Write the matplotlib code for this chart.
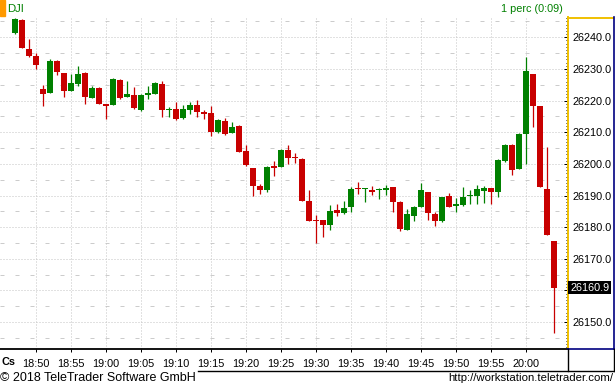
import matplotlib
matplotlib.use("Agg")
import matplotlib.pyplot as plt
import numpy as np
from matplotlib.lines import Line2D
from matplotlib.patches import Rectangle
from matplotlib.ticker import MultipleLocator

plt.rcParams['font.family'] = ['Liberation Sans', 'DejaVu Sans']

# 1-minute candles for DJI, first bar at 18:47
start_time = "18:47"
opens = [26241.4, 26245.5, 26236.3, 26234.1, 26223.7, 26222.5, 26232.5, 26228.7, 26223.1, 26225.3,
         26228.8, 26220.9, 26224.0, 26218.5, 26218.5, 26226.5, 26221.2, 26221.8, 26217.0, 26221.9,
         26222.2, 26225.3, 26217.0, 26217.4, 26214.6, 26217.1, 26218.6, 26216.4, 26216.2, 26210.2,
         26213.6, 26209.6, 26212.0, 26204.1, 26198.7, 26193.0, 26191.8, 26199.4, 26199.0, 26204.4,
         26202.0, 26201.6, 26188.3, 26182.0, 26182.3, 26180.7, 26185.5, 26184.6, 26186.5, 26192.1,
         26192.0, 26191.8, 26191.6, 26191.8, 26192.7, 26188.1, 26179.2, 26183.4, 26186.5, 26191.2,
         26184.2, 26182.1, 26189.9, 26186.8, 26187.0, 26189.8, 26190.0, 26191.5, 26192.4, 26191.2,
         26201.0, 26206.0, 26198.4, 26209.4, 26228.5, 26218.4, 26192.1, 26175.7]
highs = [26246.1, 26245.8, 26239.5, 26235.1, 26224.9, 26233.1, 26232.8, 26228.7, 26228.4, 26230.9,
         26229.0, 26224.5, 26224.2, 26218.5, 26227.1, 26226.8, 26226.2, 26224.3, 26222.0, 26224.6,
         26225.8, 26226.2, 26218.0, 26219.5, 26218.6, 26219.6, 26220.2, 26217.0, 26218.3, 26214.2,
         26214.5, 26213.2, 26212.3, 26206.0, 26198.7, 26193.5, 26199.4, 26201.0, 26204.7, 26206.0,
         26203.5, 26201.8, 26191.8, 26183.9, 26182.3, 26187.0, 26187.4, 26188.3, 26192.8, 26194.4,
         26192.3, 26193.0, 26192.3, 26193.4, 26192.7, 26188.4, 26185.8, 26186.7, 26194.1, 26191.2,
         26184.8, 26189.6, 26190.8, 26189.3, 26192.7, 26191.8, 26193.4, 26193.0, 26192.4, 26201.6,
         26206.3, 26206.3, 26209.6, 26233.9, 26228.5, 26218.4, 26205.4, 26175.7]
lows = [26241.1, 26236.7, 26233.9, 26230.0, 26218.3, 26222.5, 26228.2, 26221.2, 26223.1, 26224.7,
        26219.0, 26220.9, 26218.8, 26214.3, 26218.5, 26220.6, 26221.2, 26217.3, 26216.7, 26220.5,
        26222.2, 26214.9, 26214.9, 26213.7, 26214.3, 26215.6, 26214.9, 26214.3, 26208.9, 26209.9,
        26209.2, 26209.6, 26203.9, 26199.4, 26189.9, 26190.6, 26191.2, 26196.2, 26199.0, 26200.1,
        26200.4, 26188.4, 26181.8, 26175.1, 26177.0, 26179.2, 26183.6, 26184.3, 26184.8, 26190.4,
        26188.1, 26190.2, 26188.9, 26190.2, 26184.9, 26178.9, 26179.2, 26182.1, 26186.5, 26182.4,
        26180.5, 26181.5, 26186.5, 26184.9, 26186.7, 26187.4, 26187.4, 26187.7, 26187.4, 26189.6,
        26200.6, 26196.5, 26198.4, 26199.8, 26211.5, 26192.8, 26177.4, 26146.7]
closes = [26245.8, 26236.7, 26234.2, 26231.3, 26222.2, 26232.5, 26229.1, 26223.1, 26225.6, 26228.4,
          26221.2, 26224.0, 26218.8, 26218.4, 26226.8, 26220.9, 26222.1, 26217.6, 26221.8, 26222.2,
          26225.6, 26217.1, 26217.1, 26214.3, 26217.4, 26218.6, 26216.5, 26215.9, 26210.2, 26213.9,
          26209.5, 26211.7, 26203.9, 26199.7, 26193.0, 26191.8, 26199.0, 26198.8, 26204.4, 26202.0,
          26201.8, 26188.4, 26182.1, 26181.9, 26180.7, 26185.2, 26184.6, 26186.0, 26192.1, 26191.9,
          26192.1, 26191.2, 26191.8, 26192.5, 26188.1, 26179.5, 26184.2, 26186.4, 26191.8, 26184.6,
          26182.1, 26189.6, 26186.5, 26187.0, 26189.6, 26189.9, 26192.1, 26192.4, 26191.2, 26201.3,
          26206.0, 26198.1, 26209.5, 26229.4, 26218.4, 26192.8, 26177.4, 26160.9]

time_labels = ["18:50", "18:55", "19:00", "19:05", "19:10", "19:15", "19:20", "19:25",
               "19:30", "19:35", "19:40", "19:45", "19:50", "19:55", "20:00"]
price_ticks = [26150, 26160, 26170, 26180, 26190, 26200, 26210, 26220, 26230, 26240]
price_half = [26145, 26155, 26165, 26175, 26185, 26195, 26205, 26215, 26225, 26235, 26245]
last_price = 26160.9

green = '#008000'
red = '#c80000'
W, H = 615, 387


def minutes(t):
    h, m = t.split(":")
    return int(h) * 60 + int(m)


def fx(px):
    return px / W


def fy(py):
    return 1 - py / H


fig = plt.figure(figsize=(W / 100, H / 100), dpi=100)
fig.patch.set_facecolor('white')
ax = fig.add_axes([0, fy(349), fx(568), (349 - 17) / H])

o = np.array(opens)
c = np.array(closes)
x = np.arange(len(o))
cols = np.where(c >= o, green, red)

# grid
for p in price_ticks:
    ax.axhline(p, color='#c4c4c4', lw=0.72, ls=(0, (1, 2)), zorder=1)
for p in price_half:
    ax.axhline(p, color='#cccccc', lw=0.72, ls=(0, (4, 11)), zorder=1)
tick_pos = [minutes(t) - minutes(start_time) for t in time_labels]
for t in tick_pos:
    ax.axvline(t, color='#c4c4c4', lw=0.72, ls=(0, (1, 2)), zorder=1)

# candles
ax.vlines(x, lows, highs, colors=cols, lw=0.9, zorder=3)
ax.bar(x, np.maximum(np.abs(c - o), 0.4), bottom=np.minimum(o, c), width=0.72,
       color=cols, lw=0, zorder=4)

ax.set_xlim(-15 / 7, 553 / 7)
ax.set_ylim(26141.5, 26246.4)

for s in ['left', 'top']:
    ax.spines[s].set_visible(False)
ax.spines['bottom'].set_linewidth(1.3)
ax.spines['bottom'].set_color('black')
ax.spines['right'].set_linewidth(1.4)
ax.spines['right'].set_color('#f0c000')

# the label hidden behind the last-price box is left blank
ax.yaxis.tick_right()
ax.set_yticks(price_ticks, labels=["" if abs(v - last_price) < 3 else f"{v:.1f}"
                                   for v in price_ticks])
ax.yaxis.set_minor_locator(MultipleLocator(1))
ax.tick_params(axis='y', which='both', direction='in', color='black', width=0.72,
               labelsize=7.8, pad=3.5)
ax.tick_params(axis='y', which='major', length=2.6)
ax.tick_params(axis='y', which='minor', length=1.6)

ax.set_xticks(tick_pos, labels=time_labels)
ax.tick_params(axis='x', direction='out', length=2.2, width=0.72, labelsize=7.8, pad=5)

# last price marker
ax.text(1 + 2 / 568, last_price, f"{last_price:.1f}", transform=ax.get_yaxis_transform(),
        ha='left', va='center', color='white', fontsize=7.8, zorder=10, clip_on=False,
        bbox=dict(facecolor='black', edgecolor='none', pad=1.2))

# header
fig.patches.append(Rectangle((0, fy(16)), fx(5), 16 / H, transform=fig.transFigure,
                             color='#ff9900'))
fig.text(fx(7), fy(8.5), "DJI", color=green, fontsize=8.2, va='center')
fig.text(fx(532), fy(9), "1 perc (0:09)", color=green, fontsize=7.8, va='center', ha='center')
fig.text(fx(1), fy(362), "Cs", fontsize=7.8, weight='bold', va='center')

# frames around the price panel and the time strip
def fline(x0, y0, x1, y1, color, lw=1.0):
    fig.add_artist(Line2D([fx(x0), fx(x1)], [fy(y0), fy(y1)], transform=fig.transFigure,
                          color=color, lw=lw))

fline(568, 17.5, 613, 17.5, '#f0c000', 1.4)
fline(613.5, 17, 613.5, 349, '#000080', 1.2)
fline(568, 349, 614, 349, '#000080', 1.2)
fline(567.5, 349, 567.5, 371, 'black', 1.0)
fline(613.5, 349, 613.5, 371, 'black', 1.0)
fline(198, 370.5, 614, 370.5, 'black', 1.0)

fig.text(0, fy(378), "\u00a9 2018 TeleTrader Software GmbH", fontsize=9.0, va='center')
fig.text(fx(613), fy(378), "http://workstation.teletrader.com/", fontsize=8.2,
         va='center', ha='right')

fig.savefig('out.png', dpi=100)
